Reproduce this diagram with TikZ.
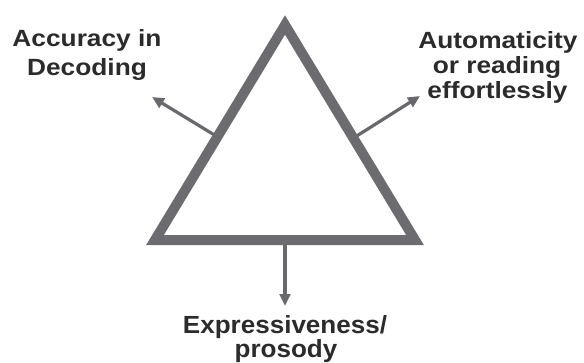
\documentclass[tikz,border=0pt]{standalone}
\usepackage{fontspec}
\setmainfont{Liberation Sans}[FakeStretch=1.12]
\newfontfamily\botfont{Liberation Sans}[FakeStretch=1.05]
\usetikzlibrary{arrows.meta,calc}
\definecolor{tricol}{HTML}{6B6B70}
\definecolor{arrcol}{HTML}{69696D}
\definecolor{txtcol}{HTML}{2B2B2B}
\begin{document}
\begin{tikzpicture}[x=0.75pt,y=-0.75pt,
  lab/.style={font=\fontsize{17.6pt}{21pt}\selectfont\bfseries, text=txtcol, inner sep=0pt, anchor=base},
  blab/.style={font=\botfont\fontsize{18.6pt}{21pt}\selectfont\bfseries, text=txtcol, inner sep=0pt, anchor=base},
  triline/.style={draw=tricol, line width=7.5pt, line join=miter},
  arrline/.style={draw=arrcol, line width=2.4pt, -{Triangle[length=9pt,width=8pt]}}]
\useasboundingbox (0,0) rectangle (584,362);
\coordinate (A) at (285,25);
\coordinate (L) at (155,240);
\coordinate (R) at (415,240);
\coordinate (lm) at ($(A)!0.52!(L)$);
\coordinate (rm) at ($(A)!0.526!(R)$);
\coordinate (bm) at ($(L)!0.5!(R)$);
\coordinate (lt) at (152,97);
\coordinate (rt) at (420,96);
\coordinate (bt) at (285,306);
\draw[arrline] (lm) -- (lt);
\draw[arrline] (rm) -- (rt);
\draw[arrline] (bm) -- (bt);
\draw[triline] (A) -- (L) -- (R) -- cycle;
\node[lab] (acc1) at (87,46.7) {Accuracy in};
\node[lab] (acc2) at (87,75) {Decoding};
\node[lab] (aut1) at (498,48.3) {Automaticity};
\node[lab] (aut2) at (497,73.3) {or reading};
\node[lab] (aut3) at (497.5,98.3) {effortlessly};
\node[blab] (exp1) at (285,333.3) {Expressiveness/};
\node[blab] (exp2) at (286,357) {prosody};
\end{tikzpicture}
\end{document}
